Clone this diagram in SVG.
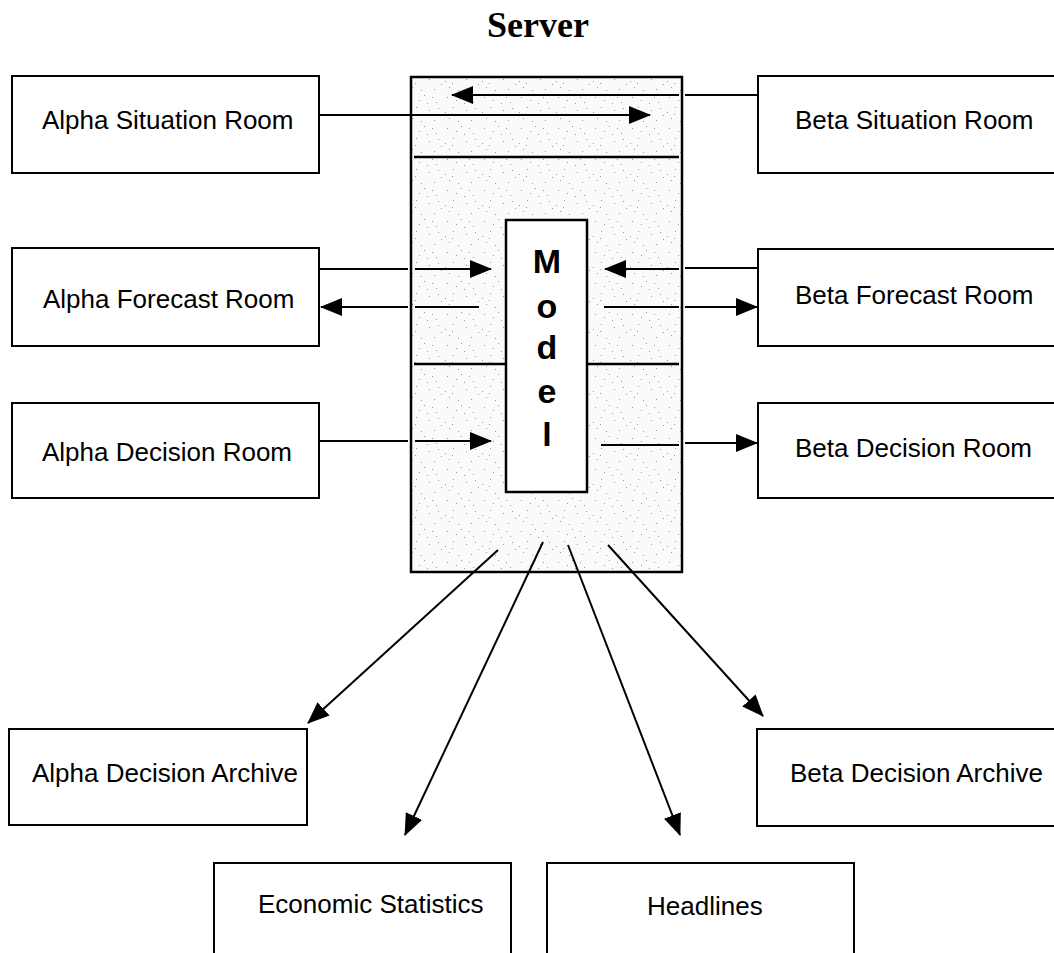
<svg xmlns="http://www.w3.org/2000/svg" width="1054" height="953" viewBox="0 0 1054 953">
<style>
.box{fill:#fff;stroke:#000;stroke-width:2}
.lbl{font-family:"Liberation Sans",Arial,sans-serif;font-size:26px;fill:#000}
.model{font-family:"Liberation Sans",Arial,sans-serif;font-size:34px;font-weight:bold;fill:#000;text-anchor:middle}
.title{font-family:"Liberation Serif","Times New Roman",serif;font-size:36px;font-weight:bold;fill:#000;text-anchor:middle}
.sep{stroke:#000;stroke-width:2.5;fill:none}
.conn{stroke:#000;stroke-width:2;fill:none;marker-end:url(#ah)}
.plain{stroke:#000;stroke-width:2;fill:none}
</style>
<defs>
<marker id="ah" viewBox="0 0 22 18" refX="21" refY="9" markerWidth="22" markerHeight="18" markerUnits="userSpaceOnUse" orient="auto">
<path d="M0,0 L22,9 L0,18 Z" fill="#000"/>
</marker>
<pattern id="stip" width="37" height="31" patternUnits="userSpaceOnUse">
<rect width="37" height="31" fill="#fafafa"/>
<g fill="#9a9a9a">
<rect x="3" y="4" width="1" height="1"/><rect x="17" y="2" width="1" height="1"/><rect x="29" y="9" width="1" height="1"/>
<rect x="9" y="14" width="1" height="1"/><rect x="22" y="17" width="1" height="1"/><rect x="34" y="22" width="1" height="1"/>
<rect x="5" y="25" width="1" height="1"/><rect x="14" y="28" width="1" height="1"/><rect x="27" y="27" width="1" height="1"/>
<rect x="12" y="7" width="1" height="1"/><rect x="31" y="15" width="1" height="1"/><rect x="1" y="19" width="1" height="1"/>
<rect x="20" y="10" width="1" height="1"/><rect x="25" y="4" width="1" height="1"/><rect x="8" y="21" width="1" height="1"/>
</g>
</pattern>
</defs>

<text class="title" x="538" y="37">Server</text>

<g id="server">
<rect x="411" y="77" width="271" height="495" fill="url(#stip)" stroke="#000" stroke-width="2.5"/>
<line class="sep" x1="414" y1="157" x2="679" y2="157"/>
<line class="sep" x1="414" y1="364" x2="506" y2="364"/>
<line class="sep" x1="587" y1="364" x2="679" y2="364"/>
</g>

<g id="model">
<rect x="506" y="220" width="81" height="272" fill="#fff" stroke="#000" stroke-width="2.5"/>
<text class="model" x="547" y="273">M</text>
<text class="model" x="547" y="318">o</text>
<text class="model" x="547" y="359">d</text>
<text class="model" x="547" y="403">e</text>
<text class="model" x="547" y="446">l</text>
</g>

<g id="alpha-situation"><rect class="box" x="12" y="76" width="307" height="97"/><text class="lbl" x="42" y="129">Alpha Situation Room</text></g>
<g id="alpha-forecast"><rect class="box" x="12" y="248" width="307" height="98"/><text class="lbl" x="43" y="308">Alpha Forecast Room</text></g>
<g id="alpha-decision"><rect class="box" x="12" y="403" width="307" height="95"/><text class="lbl" x="42" y="461">Alpha Decision Room</text></g>
<g id="beta-situation"><rect class="box" x="758" y="76" width="310" height="97"/><text class="lbl" x="795" y="129">Beta Situation Room</text></g>
<g id="beta-forecast"><rect class="box" x="758" y="249" width="310" height="97"/><text class="lbl" x="795" y="304">Beta Forecast Room</text></g>
<g id="beta-decision"><rect class="box" x="758" y="403" width="310" height="95"/><text class="lbl" x="795" y="457">Beta Decision Room</text></g>
<g id="alpha-archive"><rect class="box" x="9" y="729" width="298" height="96"/><text class="lbl" x="32" y="782">Alpha Decision Archive</text></g>
<g id="beta-archive"><rect class="box" x="757" y="729" width="310" height="97"/><text class="lbl" x="790" y="782">Beta Decision Archive</text></g>
<g id="economic-statistics"><rect class="box" x="214" y="863" width="297" height="100"/><text class="lbl" x="258" y="913">Economic Statistics</text></g>
<g id="headlines"><rect class="box" x="547" y="863" width="307" height="100"/><text class="lbl" x="647" y="915">Headlines</text></g>

<g id="connectors">
<path class="conn" d="M757,95 H685 M679,95 H452"/>
<path class="conn" d="M319,115 H650"/>
<path class="conn" d="M320,269 H408 M415,269 H491"/>
<path class="conn" d="M479,307 H415 M408,307 H321"/>
<path class="conn" d="M320,441 H408 M415,441 H491"/>
<path class="conn" d="M757,268 H685 M679,269 H605"/>
<path class="conn" d="M604,307 H679 M685,307 H757"/>
<path class="conn" d="M601,445 H679 M685,443 H757"/>
<line class="conn" x1="498" y1="550" x2="308" y2="723"/>
<line class="conn" x1="543" y1="542" x2="405" y2="835"/>
<line class="conn" x1="568" y1="545" x2="680" y2="835"/>
<line class="conn" x1="608" y1="545" x2="763" y2="716"/>
</g>
</svg>
